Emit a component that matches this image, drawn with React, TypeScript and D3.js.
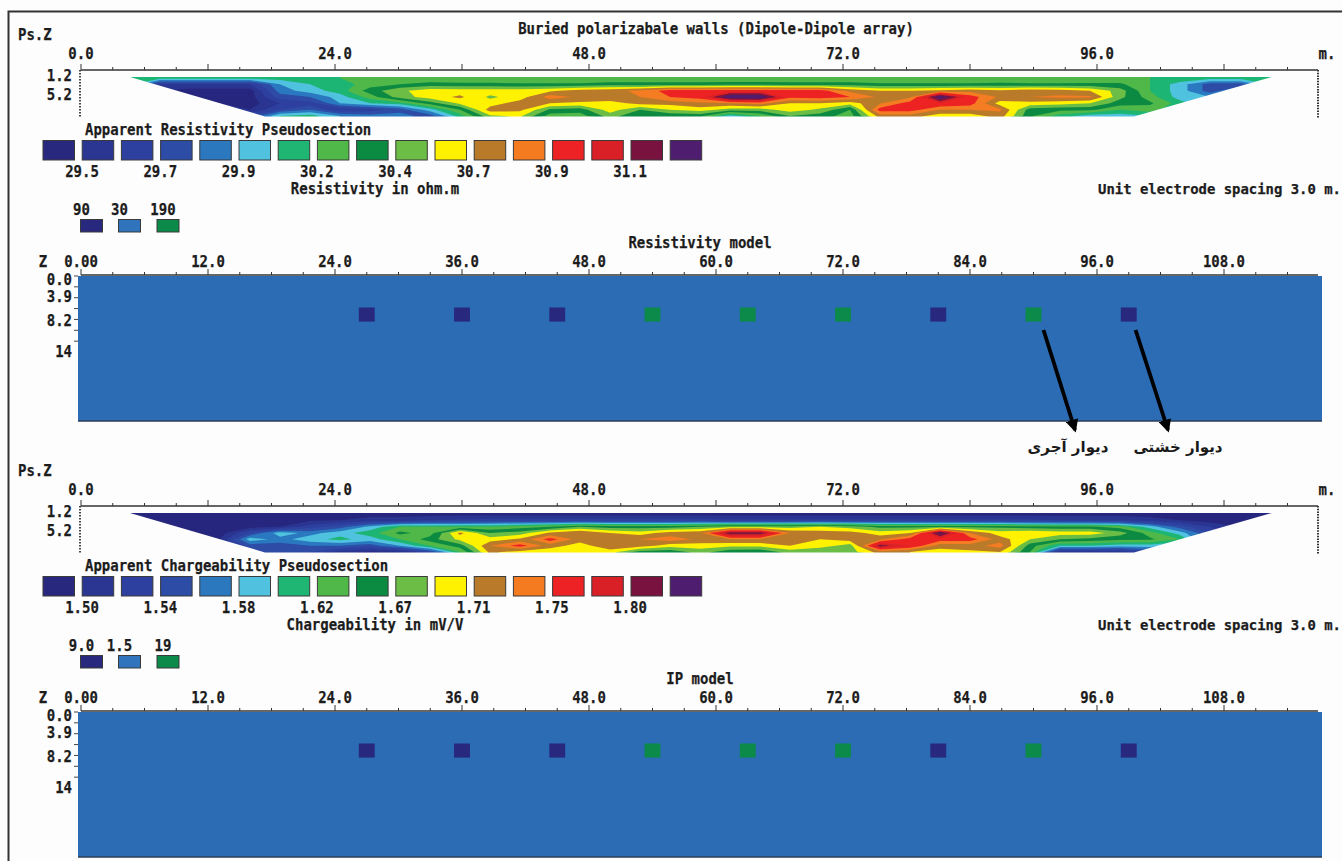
import React, { useMemo } from "react";
import * as d3 from "d3";

// ---------- data ----------
const bandColors = ["#28287e","#2b3592","#2e409f","#2d4ca6","#2b78bf","#50c2df","#1fb573","#4fb848","#0b8a42","#6cbd45","#fff200","#b97a2a","#f47b20","#ed2224","#d92027","#7a1240","#4f1d70"];
const resistivityLegend = ["29.5","29.7","29.9","30.2","30.4","30.7","30.9","31.1"];
const chargeabilityLegend = ["1.50","1.54","1.58","1.62","1.67","1.71","1.75","1.80"];
const resistivityModelLegend = ["90","30","190"];
const chargeabilityModelLegend = ["9.0","1.5","19"];
const modelLegendColors = ["#28287e","#2f74bd","#0b8a4a"];
const xMajorPseudo = [0,24,48,72,96];
const xMajorModel = [12,24,36,48,60,72,84,96,108];
const modelDepthTicks = ["0.0","3.9","8.2","14"];
const pseudoDepthTicks = ["1.2","5.2"];
const blockPositions = [27,36,45,54,63,72,81,90,99];
const blockKinds = [0,0,0,2,2,2,0,2,0];
const arrowStarts = [90,98.7];
const arrowEnds = [1075,1168];

// Band value per column (every ~2.8 m), each listing pseudo-depth levels from shallow to deep
const resistivityColumns = [
[6.5,6.5,6,5.5,5,5,5],[6.5,2,1,1,1,1,1],[6.5,2,.5,1,1,1,1],[6.5,2,.5,.5,1,1,1],[6.5,2,.5,.5,.5,1,3],
[6.5,5,4.5,3.5,2,3,6],[6.8,6,5.5,4,2.5,4,6.5],[7,6.5,6.5,5.5,5,2,5],[7,7.5,8.5,7.5,6,2.5,4.5],[7,8,9.8,9.5,6.5,3.5,4.5],
[7,8.5,10.5,10.5,8.5,5.5,3.5],[7,8.3,10.5,11.2,10.2,8,6.5],[7,8.3,10.5,9.8,10.5,11.5,9.8],[7,8.2,10.5,10.5,11.5,11.3,10.2],[7,8.2,10.8,12.5,11,8.8,7.5],
[7,8.2,11.5,11.8,10.8,8.5,7.5],[7,8.5,11.7,11.8,10.5,10.5,9.5],[7,8.5,12.2,12,11.4,9,8],[7,8.5,13.5,13,11.4,10,8.2],[7,8.5,13.5,13.5,11.8,10.5,8.3],
[7,8.6,13.6,17,12,9.5,5.5],[7,8.6,13.6,17,12.5,9.5,7],[7,8.5,13.5,13.3,11,10.5,9],[7,8.5,13.5,13.5,11,9.8,8.5],[7,8.5,11.7,13,10.5,8,7.5],
[7,8.2,11,11.8,11.9,13.5,11.5],[7,8.2,11,11.8,13.5,13.5,11.5],[7,8.2,11.2,17,14,12,10.5],[7,8.2,11.6,13.5,13.5,12,10.5],[7,8.3,11.2,11.8,10.5,12.2,11.5],
[7,8.2,11.7,12,10.7,8.5,8.2],[7,8.2,11.5,12.2,10.4,8.3,6.5],[7.3,8.2,11,12.2,10,8.3,5.5],[7.3,8.2,9.5,9.3,8.5,7,5.5],[7,7,7,7.5,8.2,7.5,6],
[6.8,5.5,5.5,5.5,6.5,6,6],[6.5,3.5,3.5,5,5,5,5],[6.5,3.5,5,5,5,5,5],[6.5,6,5,5,5,5,5]];

const chargeabilityColumns = [
[.5,.5,.5,.5,.5,.5,.5],[.5,.5,.5,.5,.5,.5,.5],[.5,.5,.5,.5,.5,.5,.5],[.5,.5,.5,.5,1,1,1],[.5,.5,.5,3,5.6,3.5,3],
[.5,.5,1,5.6,4.6,3.5,3.5],[.5,.8,2.5,4.6,5.6,4,3],[.5,1,3.5,5.6,6.3,4,1.5],[.5,1.5,5.3,6.5,5.5,3.5,.8],[.5,1.5,7,8.3,7,5,1],
[.5,2,7,7.5,8.5,7,3],[.5,2.2,7,11.3,10.3,8.5,7],[.5,2.5,7,9,10.5,12,11.3],[.5,2.5,7.5,9.5,11.2,13.5,10.5],[.5,2.5,8,11.2,13.5,11.5,10.3],
[.5,2.5,9,12,11.5,10.5,10.3],[.5,2.5,8.5,11,11.5,11.8,10.5],[.5,2.5,8.5,10.5,12,11.5,8.5],[.5,2.5,8.5,11.5,12.5,10.5,8.3],[.5,2.5,9,11.8,11.8,10.5,9.5],
[.5,2.2,9.5,15.8,12,10.3,8.3],[.5,2.2,9.5,15.8,12,10.3,8.2],[.5,2.2,9.5,12,11.5,11,9.5],[.5,2.2,10,11.5,11,10.5,9],[.5,2.2,9.5,11.5,11.5,9.5,9.5],
[.5,2.2,8.7,10.5,11.8,15.5,11.5],[.5,2.2,8.7,11,13.5,14,11],[.5,2.2,8.7,16.5,13.5,11.5,10.5],[.5,2.2,8.7,12,13.5,11.5,10.8],[.5,2.2,8.7,10.5,11.5,12.5,11],
[.5,2.2,8.3,11,10,8.5,8],[.5,2,8.2,10.5,9,6,1.5],[.5,2,8.2,10.5,8.7,6,1.5],[.5,2,7.5,9.5,8.3,5.5,1.5],[.5,1.5,5.5,7.5,8.2,5.5,3],
[.5,1,3.5,5.5,7,5,3],[.5,.5,2,3,3,3,3],[.5,.5,1,1,1,1,1],[.5,.5,.5,.5,.5,.5,.5]];

const PANEL_OFFSET = 436;
const FONT = "'DejaVu Sans Mono', monospace";

const x = d3.scaleLinear().domain([0, 24]).range([81, 335]);
const pz = d3.scaleLinear().domain([0, 10]).range([70, 117.5]);
const mz = d3.scaleLinear().domain([0, 14]).range([276, 352]);
const colX = d3.scaleLinear().domain([0, 38]).range([x(4.63), x(4.63) + 30 * 38]);
const rowDepth = d3.scaleLinear().domain([0, 6]).range([1.68, 9.68]);

const T = ({ children, len, ...p }: any) => (
  <text fontFamily={FONT} fontWeight={700} fontSize={16} fill="#1c1c1c" stroke="#1c1c1c" strokeWidth={0.25}
    textLength={len ?? String(children).length * 8.42} lengthAdjust="spacingAndGlyphs" {...p}>{children}</text>
);

function Pseudo({ columns, id }: { columns: number[][]; id: string }) {
  const contours = useMemo(() => {
    const n = columns.length, m = columns[0].length;
    const values: number[] = [];
    for (let j = 0; j < m; j++) for (let i = 0; i < n; i++) values.push(columns[i][j]);
    return d3.contours().size([n, m]).thresholds(d3.range(0, 17))(values);
  }, [columns]);
  const path = d3.geoPath(d3.geoTransform({
    point(a: number, b: number) { (this as any).stream.point(colX(a - 0.5), pz(rowDepth(b - 0.5))); },
  }));
  const corners = [[x(4.63), pz(rowDepth(0)) - 1], [x(112.5), pz(rowDepth(0)) - 1], [1134, pz(rowDepth(6)) + 0.5], [265, pz(rowDepth(6)) + 0.5]];
  return (
    <g>
      <clipPath id={id}><polygon points={corners.map(c => c.join(",")).join(" ")} /></clipPath>
      <g clipPath={`url(#${id})`} filter="url(#soft)">
        <polygon points={corners.map(c => c.join(",")).join(" ")} fill={bandColors[0]} />
        {contours.map((c, i) => (
          <path key={i} d={path(c as any) || ""} fill={bandColors[Math.min(Math.floor(c.value), 16)]} />
        ))}
      </g>
    </g>
  );
}

function TopAxis({ axisY, labelY, majors, format, first }: any) {
  const minorTicks = d3.range(0, 114.1, 3);
  return (
    <g>
      <line x1={81} x2={1318} y1={axisY} y2={axisY} stroke="#333" strokeWidth={1.5} />
      {minorTicks.map(t => (
        <line key={t} x1={x(t)} x2={x(t)} y1={axisY} y2={axisY - (t % 12 === 0 ? 6 : 3)} stroke="#333" strokeWidth={1} />
      ))}
      <T x={x(0)} y={labelY} textAnchor="middle">{first}</T>
      {majors.map((t: number) => <T key={t} x={x(t)} y={labelY} textAnchor="middle">{format(t)}</T>)}
    </g>
  );
}

function Panel({ dy, columns, id, legendTitle, legendLabels, unitTitle, modelTitle, modelLegend, unitX }: any) {
  return (
    <g transform={`translate(0,${dy})`}>
      <T x={18} y={40}>Ps.Z</T>
      <TopAxis axisY={70} labelY={59} majors={xMajorPseudo.slice(1)} format={(t: number) => t.toFixed(1)} first="0.0" />
      <T x={1327} y={59} textAnchor="middle">m.</T>
      <line x1={80} x2={80} y1={70} y2={118} stroke="#444" strokeWidth={2} strokeDasharray="1.5 1.5" />
      <line x1={1318} x2={1318} y1={70} y2={118} stroke="#333" strokeWidth={2} strokeDasharray="1.5 1.2" />
      {pseudoDepthTicks.map(d => (
        <T key={d} x={72} y={pz(+d) + 5} textAnchor="end">{d}</T>
      ))}
      <Pseudo columns={columns} id={id} />
      <T x={85} y={135}>{legendTitle}</T>
      {bandColors.map((c, i) => (
        <rect key={i} x={43 + 39.2 * i} y={140.5} width={31.5} height={19.5} fill={c} stroke="#3a3a3a" strokeWidth={1} />
      ))}
      {legendLabels.map((l: string, i: number) => (
        <T key={l} x={82 + 78.3 * i} y={177} textAnchor="middle">{l}</T>
      ))}
      <T x={unitX} y={194} textAnchor="middle">{unitTitle}</T>
      <T x={1098} y={194} len={243} fontSize={13.9}>Unit electrode spacing 3.0 m.</T>
      {modelLegend.map((l: string, i: number) => (
        <g key={l}>
          <T x={[81.5, 119.5, 163][i]} y={215} textAnchor="middle">{l}</T>
          <rect x={[80.5, 118.5, 157][i]} y={219.5} width={22} height={12.5} fill={modelLegendColors[i]} stroke="#3a3a3a" />
        </g>
      ))}
      <T x={700} y={248} textAnchor="middle">{modelTitle}</T>
      <T x={43} y={267} textAnchor="middle">Z</T>
      <TopAxis axisY={275} labelY={267} majors={xMajorModel} format={(t: number) => t.toFixed(1)} first="0.00" />
      {modelDepthTicks.map(d => (
        <T key={d} x={72} y={Math.max(mz(+d), 280) + 5} textAnchor="end">{d}</T>
      ))}
      {d3.range(0, 7, 1).map(d => <line key={d} x1={74} x2={78} y1={mz(d * 2)} y2={mz(d * 2)} stroke="#444" />)}
      <rect x={78} y={276} width={1244} height={145} fill="#2b6cb4" />
      <line x1={78} x2={1322} y1={421} y2={421} stroke="#2c3e55" strokeWidth={1.5} />
      {blockPositions.map((b, i) => (
        <rect key={b} x={x(b - 0.75)} y={mz(5.8)} width={x(1.5) - x(0)} height={mz(8.4) - mz(5.8)} fill={modelLegendColors[blockKinds[i]]} />
      ))}
    </g>
  );
}

export default function App() {
  return (
    <svg width={1342} height={861} style={{ position: "absolute", left: 0, top: 0, background: "#fdfdfd" }}>
      <defs>
        <filter id="soft" x="-2%" y="-10%" width="104%" height="120%"><feGaussianBlur stdDeviation="0.6" /></filter>
        <marker id="head" viewBox="0 0 10 10" refX="8" refY="5" markerWidth="3.4" markerHeight="3.4" orient="auto">
          <path d="M0,0L10,5L0,10Z" fill="#000" />
        </marker>
      </defs>
      <path d="M8.5,861V11.5H1342" fill="none" stroke="#333" strokeWidth={2} />
      <T x={716} y={34} textAnchor="middle">Buried polarizabale walls (Dipole-Dipole array)</T>
      <Panel dy={0} columns={resistivityColumns} id="clipR" legendTitle="Apparent Resistivity Pseudosection" legendLabels={resistivityLegend}
        unitTitle="Resistivity in ohm.m" unitX={375} modelTitle="Resistivity model" modelLegend={resistivityModelLegend} />
      <Panel dy={PANEL_OFFSET} columns={chargeabilityColumns} id="clipC" legendTitle="Apparent Chargeability Pseudosection" legendLabels={chargeabilityLegend}
        unitTitle="Chargeability in mV/V" unitX={375} modelTitle="IP model" modelLegend={chargeabilityModelLegend} />
      {arrowStarts.map((s, i) => (
        <line key={i} x1={x(s) + 10} y1={330} x2={arrowEnds[i]} y2={430} stroke="#000" strokeWidth={3.8} markerEnd="url(#head)" />
      ))}
      <text x={1068} y={452} textAnchor="middle" fontFamily="'DejaVu Sans'" fontWeight={700} fontSize={15} fill="#1a1a1a" direction="rtl">دیوار آجری</text>
      <text x={1178} y={452} textAnchor="middle" fontFamily="'DejaVu Sans'" fontWeight={700} fontSize={15} fill="#1a1a1a" direction="rtl">دیوار خشتی</text>
    </svg>
  );
}
